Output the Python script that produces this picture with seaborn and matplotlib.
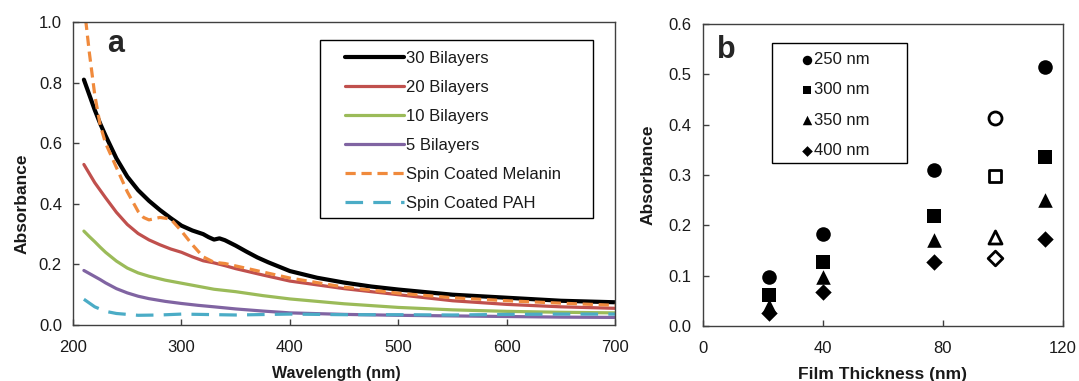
import numpy as np
import pandas as pd
import matplotlib
matplotlib.use("Agg")
import matplotlib.pyplot as plt
from matplotlib.patches import Rectangle
import seaborn as sns

# --- panel a: UV-vis spectra ---
wl_30 = [210, 215, 220, 225, 230, 240, 250, 260, 270, 280, 290, 300, 310, 320, 325, 330,
         335, 340, 350, 360, 370, 380, 400, 425, 450, 475, 500, 550, 600, 650, 700]
abs_30 = [0.81, 0.76, 0.71, 0.665, 0.625, 0.55, 0.49, 0.445, 0.41, 0.38, 0.353, 0.328,
          0.312, 0.30, 0.29, 0.282, 0.286, 0.28, 0.262, 0.242, 0.223, 0.207, 0.178, 0.156,
          0.14, 0.127, 0.117, 0.10, 0.09, 0.08, 0.075]

wl_20 = [210, 215, 220, 225, 230, 240, 250, 260, 270, 280, 290, 300, 310, 320, 330, 340,
         350, 375, 400, 450, 500, 550, 600, 650, 700]
abs_20 = [0.53, 0.50, 0.47, 0.445, 0.42, 0.372, 0.332, 0.302, 0.281, 0.265, 0.251, 0.24,
          0.225, 0.212, 0.205, 0.196, 0.186, 0.165, 0.145, 0.12, 0.10, 0.08, 0.068, 0.06,
          0.055]

wl_10 = [210, 215, 220, 225, 230, 240, 250, 260, 270, 285, 300, 315, 330, 350, 375, 400,
         450, 500, 550, 600, 650, 700]
abs_10 = [0.31, 0.292, 0.275, 0.257, 0.24, 0.211, 0.188, 0.172, 0.161, 0.148, 0.138, 0.128,
          0.118, 0.11, 0.097, 0.086, 0.07, 0.058, 0.05, 0.045, 0.042, 0.04]

wl_5 = [210, 215, 220, 225, 230, 240, 250, 260, 270, 285, 300, 315, 330, 350, 375, 400,
        450, 500, 550, 600, 650, 700]
abs_5 = [0.18, 0.17, 0.16, 0.15, 0.139, 0.12, 0.106, 0.095, 0.087, 0.078, 0.071, 0.065,
         0.06, 0.053, 0.046, 0.04, 0.035, 0.032, 0.03, 0.028, 0.026, 0.025]

wl_mel = [210, 215, 220, 225, 230, 240, 250, 260, 265, 270, 280, 290, 300, 310, 320, 330,
          340, 350, 375, 400, 450, 500, 550, 600, 650, 700]
abs_mel = [1.06, 0.90, 0.76, 0.66, 0.60, 0.52, 0.44, 0.375, 0.355, 0.347, 0.355, 0.35,
           0.31, 0.265, 0.225, 0.207, 0.203, 0.195, 0.175, 0.155, 0.125, 0.105, 0.09,
           0.08, 0.072, 0.065]

wl_pah = [210, 220, 230, 240, 260, 280, 300, 350, 400, 450, 500, 550, 600, 650, 700]
abs_pah = [0.085, 0.06, 0.045, 0.038, 0.032, 0.033, 0.036, 0.033, 0.036, 0.034, 0.034,
           0.033, 0.035, 0.036, 0.036]

# --- panel b: absorbance vs film thickness ---
thickness = [22, 40, 77, 114]
abs_250 = [0.097, 0.182, 0.31, 0.514]
abs_300 = [0.062, 0.128, 0.218, 0.336]
abs_350 = [0.040, 0.098, 0.172, 0.250]
abs_400 = [0.027, 0.068, 0.127, 0.174]

# spin coated film (open symbols)
open_thickness = [97.5, 97.5, 97.5, 97.5]
open_abs = [0.413, 0.298, 0.178, 0.135]
open_markers = ["o", "s", "^", "D"]

sns.set_theme(style="ticks")
plt.rcParams["font.family"] = ["Liberation Sans", "DejaVu Sans"]

fig = plt.figure(figsize=(10.79, 3.81), dpi=100)
ax1 = fig.add_axes([0.0677, 0.147, 0.5025, 0.795])
ax2 = fig.add_axes([0.6515, 0.144, 0.3335, 0.793])

spine_col = "#404040"
text_col = "#1a1a1a"

# panel a
series = [
    ("30 Bilayers", wl_30, abs_30, "black", "-", 3.0),
    ("20 Bilayers", wl_20, abs_20, "#C0504D", "-", 2.3),
    ("10 Bilayers", wl_10, abs_10, "#9BBB59", "-", 2.3),
    ("5 Bilayers", wl_5, abs_5, "#8064A2", "-", 2.3),
    ("Spin Coated Melanin", wl_mel, abs_mel, "#F08A3C", (0, (3.2, 1.8)), 2.3),
    ("Spin Coated PAH", wl_pah, abs_pah, "#4BACC6", (0, (5.5, 3.2)), 2.3),
]
for name, x, y, col, ls, lw in series:
    sns.lineplot(x=x, y=y, ax=ax1, color=col, linestyle=ls, linewidth=lw, label=name,
                 sort=False)

ax1.set_xlim(200, 700)
ax1.set_ylim(0, 1.0)
ax1.set_xticks([200, 300, 400, 500, 600, 700])
ax1.set_yticks(np.arange(0, 1.01, 0.2))
ax1.yaxis.set_major_formatter(matplotlib.ticker.FormatStrFormatter("%.1f"))
ax1.set_xlabel("Wavelength (nm)", fontsize=11.5, fontweight="bold", color=text_col)
ax1.set_ylabel("Absorbance", fontsize=12.5, fontweight="bold", color=text_col)
ax1.yaxis.set_label_coords(-0.08, 0.40)
ax1.xaxis.set_label_coords(0.485, -0.135)
ax1.text(0.063, 0.90, "a", transform=ax1.transAxes, fontsize=22, fontweight="bold",
         va="baseline", ha="left")

leg1 = ax1.legend(loc="upper left", bbox_to_anchor=(0.502, 0.904), borderaxespad=0,
                  fontsize=12, frameon=False, handlelength=3.5, handletextpad=0.15,
                  labelspacing=0.84, borderpad=0)
for t in leg1.get_texts():
    t.set_color(text_col)
ax1.add_patch(Rectangle((0.456, 0.353), 0.503, 0.587, transform=ax1.transAxes,
                        fill=False, edgecolor="black", linewidth=1.0, zorder=5))

# panel b
marks = [("250 nm", abs_250, "o", 110), ("300 nm", abs_300, "s", 95),
         ("350 nm", abs_350, "^", 110), ("400 nm", abs_400, "D", 70)]
for name, vals, m, s in marks:
    sns.scatterplot(x=thickness, y=vals, ax=ax2, marker=m, s=s, color="black",
                    edgecolor="black", linewidth=0, label=name, zorder=3)
for xv, yv, m, (_, _, _, s) in zip(open_thickness, open_abs, open_markers, marks):
    sns.scatterplot(x=[xv], y=[yv], ax=ax2, marker=m, s=s * 0.8, facecolor="white",
                    edgecolor="black", linewidth=2, zorder=3)

ax2.set_xlim(0, 120)
ax2.set_ylim(0, 0.6)
ax2.set_xticks([0, 40, 80, 120])
ax2.set_yticks(np.arange(0, 0.61, 0.1))
ax2.yaxis.set_major_formatter(matplotlib.ticker.FormatStrFormatter("%.1f"))
ax2.set_xlabel("Film Thickness (nm)", fontsize=12.5, fontweight="bold", color=text_col)
ax2.set_ylabel("Absorbance", fontsize=12.5, fontweight="bold", color=text_col)
ax2.yaxis.set_label_coords(-0.133, 0.5)
ax2.xaxis.set_label_coords(0.5, -0.135)
ax2.text(0.039, 0.887, "b", transform=ax2.transAxes, fontsize=22, fontweight="bold",
         va="baseline", ha="left")

leg2 = ax2.legend(loc="upper left", bbox_to_anchor=(0.275, 0.907), borderaxespad=0,
                  fontsize=12, frameon=False, handlelength=0.6, handletextpad=0.1,
                  labelspacing=0.92, borderpad=0, markerscale=0.65)
for t in leg2.get_texts():
    t.set_color(text_col)
ax2.add_patch(Rectangle((0.192, 0.540), 0.375, 0.397, transform=ax2.transAxes,
                        fill=False, edgecolor="black", linewidth=1.0, zorder=5))

for ax in (ax1, ax2):
    for sp in ax.spines.values():
        sp.set_visible(True)
        sp.set_color(spine_col)
        sp.set_linewidth(1.0)
    ax.tick_params(direction="in", length=4, width=1, color=spine_col,
                   labelsize=12, labelcolor=text_col)
    ax.tick_params(axis="x", pad=11)
    ax.tick_params(axis="y", pad=8)
    ax.grid(False)

fig.savefig("out.png", dpi=100)
